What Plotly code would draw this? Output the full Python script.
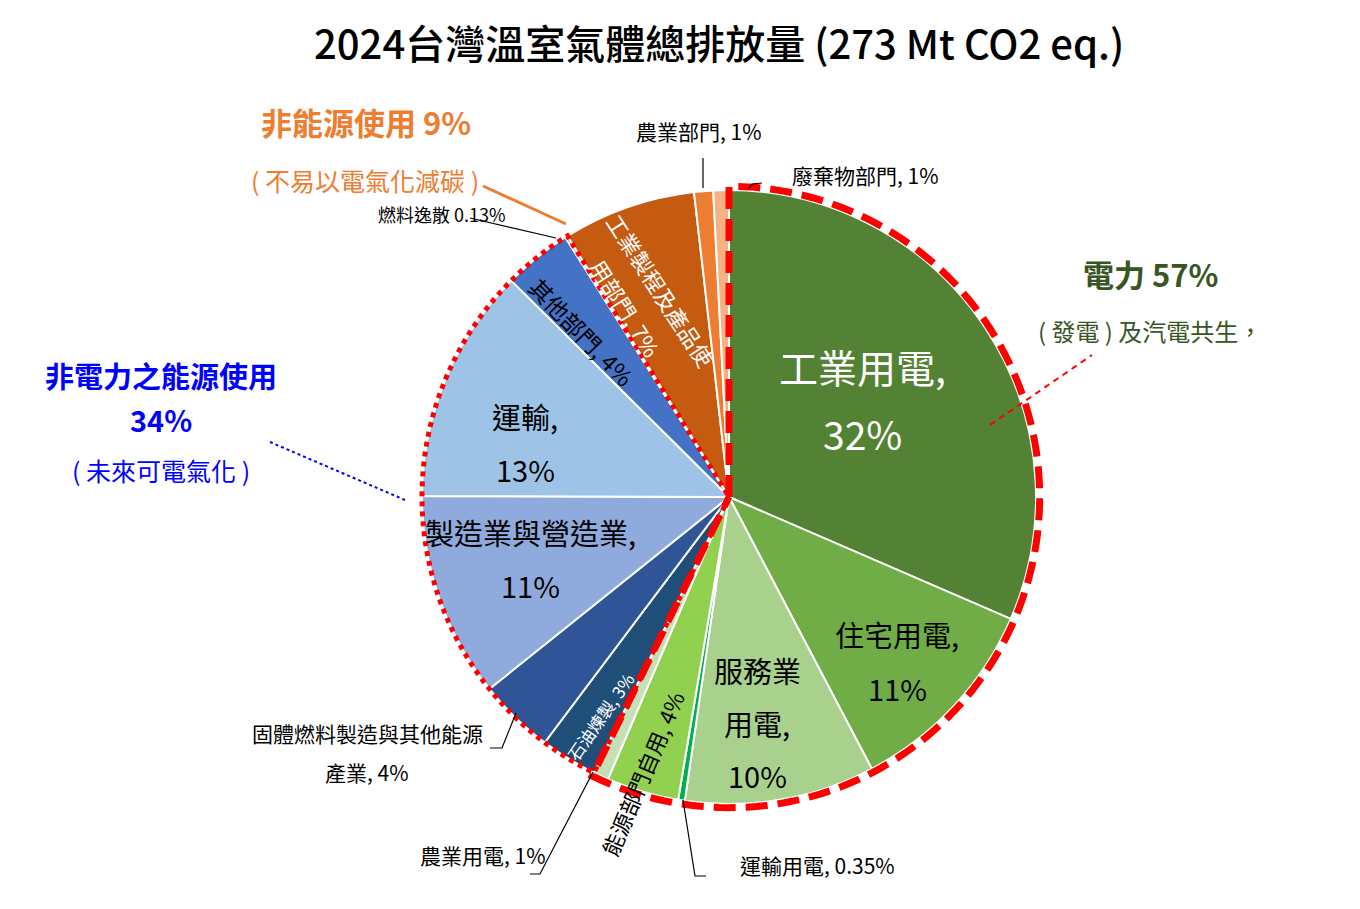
import numpy as np
import plotly.graph_objects as go

# the page body has an 8px margin, so the figure is drawn inside it
OFF = 8
W, H = 1360 - 2 * OFF, 909 - 2 * OFF

# sectors, clockwise from 12 o'clock
labels = ['工業用電', '住宅用電', '服務業用電', '運輸用電', '能源部門自用', '農業用電',
          '石油煉製', '固體燃料製造與其他能源產業', '製造業與營造業', '運輸', '其他部門', '燃料逸散',
          '工業製程及產品使用部門', '農業部門', '廢棄物部門']
values = [31.5, 10.8, 10.0, 0.35, 3.8, 0.8,
          3.0, 4.0, 10.8, 12.4, 3.6, 0.13,
          7.0, 1.0, 0.82]
shown_pct = ['32%', '11%', '10%', '0.35%', '4%', '1%',
             '3%', '4%', '11%', '13%', '4%', '0.13%',
             '7%', '1%', '1%']
colors = ['#548235', '#70AD47', '#A9D18E', '#00B050', '#92D050', '#C5E0B4',
          '#1F4E79', '#2F5597', '#8FAADC', '#9DC3E6', '#4472C4', '#203864',
          '#C55A11', '#ED7D31', '#F4B183']

# groups of sectors
groups = ['電力', '非電力之能源使用', '非能源使用']
group_pct = ['57%', '34%', '9%']
group_n = [6, 6, 3]

FONT = 'Noto Sans CJK TC'

total = sum(values)
edges = np.concatenate([[0], np.cumsum(values)]) / total * 360
mids = (edges[:-1] + edges[1:]) / 2
widths = np.diff(edges)

fig = go.Figure()

# the pie itself, as polar wedges
fig.add_trace(go.Barpolar(
    r=[1] * len(values), theta=mids, width=widths, base=0,
    marker=dict(color=colors, line=dict(color='white', width=2)),
    text=labels, customdata=shown_pct,
    hovertemplate='%{text}: %{customdata}<extra></extra>',
    showlegend=False,
))


def wedge(i0, i1, r):
    arc = np.linspace(edges[i0], edges[i1], 120)
    theta = np.concatenate([[edges[i0]], arc, [edges[i1]]])
    rr = np.concatenate([[0], [r] * len(arc), [0]])
    return rr, theta


# outline for 電力
rr, th = wedge(0, group_n[0], 1.012)
fig.add_trace(go.Scatterpolar(r=rr, theta=th, mode='lines', hoverinfo='skip', showlegend=False,
                              line=dict(color='#FF0000', width=7, dash='22px,10px')))
# outline for 非電力之能源使用
rr, th = wedge(group_n[0], group_n[0] + group_n[1], 1.0)
fig.add_trace(go.Scatterpolar(r=rr, theta=th, mode='lines', hoverinfo='skip', showlegend=False,
                              line=dict(color='#FF0000', width=5, dash='5px,5px')))

# pie placement (screen pixels)
cx, cy, rad = 729, 497, 307
half = rad * 1.03
dom_x = [(cx - OFF - half) / W, (cx - OFF + half) / W]
dom_y = [(H - (cy - OFF) - half) / H, (H - (cy - OFF) + half) / H]


def P(x, y):
    return (x - OFF) / W, 1 - (y - OFF) / H


annotations = []


def note(x, y, text, size, color='#000000', angle=0, weight='normal'):
    xx, yy = P(x, y)
    annotations.append(dict(x=xx, y=yy, xref='paper', yref='paper', text=text, showarrow=False,
                            font=dict(family=FONT, size=size, color=color, weight=weight),
                            textangle=angle, xanchor='center', yanchor='middle'))


# title
note(719, 42, '2024台灣溫室氣體總排放量 (273 Mt CO2 eq.)', 40, '#000000', 0, 500)

# group labels
note(366, 122, f'{groups[2]} {group_pct[2]}', 31, '#ED7D31', 0, 'bold')
note(365, 180, '( 不易以電氣化減碳 )', 25, '#ED7D31')
note(1150, 273, f'{groups[0]} {group_pct[0]}', 31, '#375623', 0, 'bold')
note(1150, 331, '( 發電 ) 及汽電共生，', 24, '#375623')
note(161, 375, groups[1], 29, '#0000FF', 0, 'bold')
note(161, 419, group_pct[1], 29, '#0000FF', 0, 'bold')
note(161, 470, '( 未來可電氣化 )', 25, '#0000FF')

# sector labels inside the pie
note(862, 366, f'{labels[0]},', 39, 'white')
note(862, 433, shown_pct[0], 39, 'white')
note(897, 634, f'{labels[1]},', 29)
note(897, 688, shown_pct[1], 29)
note(757, 670, '服務業', 29)
note(757, 723, '用電,', 29)
note(757, 775, shown_pct[2], 29)
note(525, 416, f'{labels[9]},', 29)
note(525, 469, shown_pct[9], 29)
note(530, 532, f'{labels[8]},', 29)
note(530, 585, shown_pct[8], 29)
note(582, 332, f'{labels[10]}, {shown_pct[10]}', 23, '#000000', 46)
note(661, 290, '工業製程及產品使', 22, 'white', 57)
note(626, 308, f'用部門, {shown_pct[12]}', 22, 'white', 58)
note(600, 716, f'{labels[6]}, {shown_pct[6]}', 17, 'white', -55)
note(642, 773, f'{labels[4]}, {shown_pct[4]}', 22, '#000000', -67)

# sector labels outside the pie
note(442, 214, f'{labels[11]} {shown_pct[11]}', 18)
note(699, 131, f'{labels[13]}, {shown_pct[13]}', 21)
note(866, 175, f'{labels[14]}, {shown_pct[14]}', 21)
note(367, 733, '固體燃料製造與其他能源', 21)
note(367, 772, f'產業, {shown_pct[7]}', 21)
note(483, 855, f'{labels[5]}, {shown_pct[5]}', 21)
note(817, 865, f'{labels[3]}, {shown_pct[3]}', 21)

shapes = []


def seg(pts, color='#000000', width=1.2, dash='solid'):
    path = 'M ' + ' L '.join(f'{P(x, y)[0]:.5f},{P(x, y)[1]:.5f}' for x, y in pts)
    shapes.append(dict(type='path', path=path, xref='paper', yref='paper',
                       line=dict(color=color, width=width, dash=dash)))


seg([(703, 188), (703, 158)])
seg([(748, 189), (752, 184), (762, 183)])
seg([(470, 218), (556, 238)])
seg([(516, 713), (502, 748), (490, 748)])
seg([(593, 772), (540, 874), (530, 874)])
seg([(683, 800), (695, 876), (706, 876)])
seg([(483, 186), (566, 224)], '#ED7D31', 3)
seg([(990, 425), (1092, 355)], '#FF0000', 2, '6px,5px')
seg([(270, 442), (405, 500)], '#0000FF', 2, 'dot')

fig.update_layout(
    width=W, height=H,
    margin=dict(l=0, r=0, t=0, b=0),
    paper_bgcolor='white',
    plot_bgcolor='white',
    polar=dict(
        domain=dict(x=dom_x, y=dom_y),
        bgcolor='rgba(0,0,0,0)',
        bargap=0,
        radialaxis=dict(visible=False, range=[0, 1.03]),
        angularaxis=dict(visible=False, rotation=90, direction='clockwise'),
    ),
    annotations=annotations,
    shapes=shapes,
    showlegend=False,
)

fig.write_html('out.html')
